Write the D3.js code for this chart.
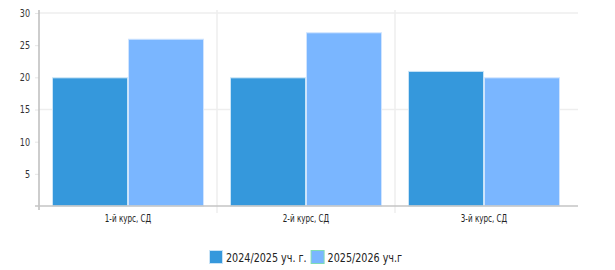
<!DOCTYPE html>
<html>
<head>
<meta charset="utf-8">
<script src="https://cdn.jsdelivr.net/npm/d3@7"></script>
<style>
  body { margin: 0; background: #fff; }
  svg text { font-family: "DejaVu Sans", sans-serif; font-stretch: condensed; fill: #333; }
</style>
</head>
<body>
<svg id="chart" width="615" height="270"></svg>
<script>
const categories = ['1-й курс, СД', '2-й курс, СД', '3-й курс, СД'];
const seriesNames = ['2024/2025 уч. г.', '2025/2026 уч.г'];
const values2024 = [20, 20, 21];
const values2025 = [26, 27, 20];
const yTicks = [5, 10, 15, 20, 25, 30];
const gridTicks = [15, 30];

const colors = ['#3598dc', '#7ab6ff'];
const strokes = ['#c9e4f7', '#cfe4ff'];
const legendStrokes = ['#c9e4f7', '#7fdcb5'];
const gridColor = '#eeeeee';

const svg = d3.select('#chart');
const margin = { left: 39, right: 42, top: 13, bottom: 64 };
const width = 615 - margin.left - margin.right;
const height = 270 - margin.top - margin.bottom;

// 窄字体
function narrow(sel, k) {
  let w = 0;
  sel.each(function () {
    const len = this.getComputedTextLength() * k;
    w = len;
    d3.select(this).attr('textLength', len).attr('lengthAdjust', 'spacingAndGlyphs');
  });
  return w;
}

const x = d3.scaleBand().domain(categories).range([0, width]).paddingInner(0).paddingOuter(0);
const x1 = d3.scaleBand().domain(seriesNames).range([13, x.bandwidth() - 13]);
const y = d3.scaleLinear().domain([0, 30]).range([height, 0]);

const g = svg.append('g').attr('transform', `translate(${margin.left},${margin.top})`);

// 网格
g.append('g').selectAll('line').data(gridTicks).enter().append('line')
  .attr('x1', 0).attr('x2', width + 5)
  .attr('y1', d => y(d)).attr('y2', d => y(d))
  .attr('stroke', gridColor).attr('stroke-width', 1.5);
g.append('g').selectAll('line').data(categories.slice(1)).enter().append('line')
  .attr('x1', d => x(d)).attr('x2', d => x(d))
  .attr('y1', -3).attr('y2', height + 7)
  .attr('stroke', gridColor).attr('stroke-width', 1.5);

// 柱子
const series = [values2024, values2025];
series.forEach((vals, si) => {
  g.append('g').selectAll('rect').data(vals).enter().append('rect')
    .attr('x', (d, i) => x(categories[i]) + x1(seriesNames[si]) + 0.5)
    .attr('y', d => y(d) + 0.5)
    .attr('width', x1.bandwidth() - 1)
    .attr('height', d => height - y(d) - 0.5)
    .attr('fill', colors[si])
    .attr('stroke', strokes[si])
    .attr('stroke-width', 1);
});

// y 轴
const yAxis = g.append('g')
  .call(d3.axisLeft(y).tickValues(yTicks).tickSize(4).tickPadding(5));
yAxis.select('.domain').remove();
yAxis.selectAll('line').attr('stroke', '#e6e6e6');
yAxis.selectAll('text').attr('font-size', 10.5).style('fill', '#333');
narrow(yAxis.selectAll('text'), 0.85);
g.append('line').attr('x1', 0).attr('x2', 0).attr('y1', -3).attr('y2', height + 4)
  .attr('stroke', '#bdbdbd').attr('stroke-width', 1.5);

// x 轴
const xAxis = g.append('g').attr('transform', `translate(0,${height})`)
  .call(d3.axisBottom(x).tickSize(0).tickPadding(9));
xAxis.select('.domain').remove();
xAxis.selectAll('text').attr('font-size', 10).style('fill', '#222');
narrow(xAxis.selectAll('text'), 0.8);
g.append('line').attr('x1', -4).attr('x2', width + 5).attr('y1', height).attr('y2', height)
  .attr('stroke', '#c4c4c4').attr('stroke-width', 1.5);

// 图例
const legend = svg.append('g').attr('transform', 'translate(209,250)');
let lx = 0;
seriesNames.forEach((name, i) => {
  const item = legend.append('g').attr('transform', `translate(${lx},0)`);
  item.append('rect').attr('x', 0.5).attr('y', 0.5).attr('width', 13).attr('height', 13)
    .attr('fill', colors[i]).attr('stroke', legendStrokes[i]);
  const t = item.append('text').attr('x', 17).attr('y', 11.5)
    .attr('font-size', 13).style('fill', '#222').text(name);
  const w = narrow(t, 0.82);
  lx += 17 + w + 4;
});
</script>
</body>
</html>
